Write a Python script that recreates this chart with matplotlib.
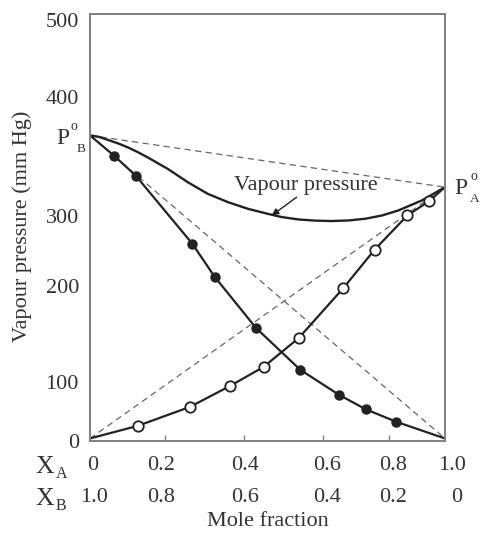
import matplotlib
matplotlib.use("Agg")
import matplotlib.pyplot as plt
import numpy as np
from matplotlib.transforms import blended_transform_factory

plt.rcParams['font.family'] = ['Liberation Serif', 'DejaVu Serif']

# ---- data (as drawn in the picture) ----
PB = 357
PA = 296
# partial pressure of B (filled circles)
xb_pts = [0.068, 0.129, 0.288, 0.351, 0.468, 0.592, 0.701, 0.777, 0.863]
yb_pts = [333, 309.5, 229.5, 190.5, 130, 81, 51.5, 34.3, 19.6]
# partial pressure of A (open circles)
xa_pts = [0.135, 0.281, 0.394, 0.489, 0.588, 0.713, 0.802, 0.894, 0.955]
ya_pts = [14.9, 37.1, 61.7, 84.3, 118.3, 176.8, 222.5, 262.7, 279.5]
# total vapour pressure curve
xv = [0, 0.025, 0.051, 0.079, 0.107, 0.135, 0.163, 0.220, 0.276, 0.332, 0.389,
      0.445, 0.501, 0.540, 0.587, 0.634, 0.681, 0.728, 0.775, 0.822, 0.868,
      0.934, 1.0]
yv = [357, 355.3, 351.6, 347.6, 342.8, 337.2, 331.0, 317.3, 301.7, 288.1, 278.3,
      270.5, 264.6, 260.8, 258.0, 256.6, 256.1, 256.8, 258.8, 262.6, 268.5,
      280.2, 296]

# tick labels as placed in the picture
ytick_pos = [-3, 67, 179, 262, 402, 493]
ytick_lab = ['0', '100', '200', '300', '400', '500']
xtick_marks = [0.210, 0.434, 0.656, 0.841]
xlab_pos_A = [0.008, 0.200, 0.437, 0.668, 0.854, 1.020]
xlab_A = ['0', '0.2', '0.4', '0.6', '0.8', '1.0']
xlab_pos_B = [0.011, 0.200, 0.437, 0.668, 0.854, 1.034]
xlab_B = ['1.0', '0.8', '0.6', '0.4', '0.2', '0']

W, H = 486, 535
fig = plt.figure(figsize=(W / 100, H / 100), dpi=100)
ax = fig.add_axes([90 / W, 1 - 441 / H, 355 / W, 427 / H])
ax.set_xlim(0, 1)
ax.set_ylim(0, 500)

tc = '#333333'
lc = '#222222'
dc = '#666666'
fs = 16


def fx(px):
    return px / W


def fy(py):
    return 1 - py / H


# dashed ideal lines
dash = dict(color=dc, lw=0.9, ls=(0, (5, 3.5)), zorder=1)
ax.plot([0, 1], [PB, PA], **dash)
ax.plot([0, 1], [PB, 0], **dash)
ax.plot([0, 1], [0, PA], **dash)

# curves
ax.plot([0] + xb_pts + [1], [PB] + yb_pts + [0], color=lc, lw=1.6, zorder=2)
ax.plot([0] + xa_pts + [1], [0] + ya_pts + [PA], color=lc, lw=1.6, zorder=2)
ax.plot(xv, yv, color=lc, lw=1.7, zorder=2, solid_joinstyle='round')

# markers
ax.plot(xb_pts, yb_pts, 'o', ms=6.5, mfc=lc, mec=lc, zorder=3)
ax.plot(xa_pts, ya_pts, 'o', ms=7.5, mfc='white', mec=lc, mew=1.3, zorder=3)

# annotation
ax.annotate('', xy=(0.512, 262.7), xytext=(0.582, 284.2),
            arrowprops=dict(arrowstyle='-|>', color=lc, lw=1.0,
                            mutation_scale=10, shrinkA=0, shrinkB=0))
ax.text(0.608, 292.5, 'Vapour pressure', ha='center', va='baseline',
        fontsize=fs, color=tc)

# spines
for s in ax.spines.values():
    s.set_color('#808080')
    s.set_linewidth(1.4)

ax.set_yticks(ytick_pos)
ax.set_yticklabels(ytick_lab)
ax.tick_params(axis='y', length=0, pad=8, labelsize=fs, labelcolor=tc)
ax.set_xticks(xtick_marks)
ax.set_xticklabels([])
ax.tick_params(axis='x', direction='in', length=4.5, width=1.0, color='#808080')

# x labels, two rows
tr = blended_transform_factory(ax.transData, fig.transFigure)
for p, l in zip(xlab_pos_A, xlab_A):
    ax.text(p, fy(465), l, transform=tr, ha='center', va='center',
            fontsize=fs, color=tc)
for p, l in zip(xlab_pos_B, xlab_B):
    ax.text(p, fy(497), l, transform=tr, ha='center', va='center',
            fontsize=fs, color=tc)

# X_A, X_B
fig.text(fx(35), fy(473), 'X', ha='left', va='baseline', fontsize=18.5, color=tc)
fig.text(fx(55.5), fy(478), 'A', ha='left', va='baseline', fontsize=11.5, color=tc)
fig.text(fx(35), fy(505), 'X', ha='left', va='baseline', fontsize=18.5, color=tc)
fig.text(fx(55.5), fy(510), 'B', ha='left', va='baseline', fontsize=11.5, color=tc)

# P° labels
fig.text(fx(56.5), fy(144.3), 'P', ha='left', va='baseline', fontsize=17, color=tc)
fig.text(fx(70.3), fy(130), 'o', ha='left', va='baseline', fontsize=10, color=tc)
fig.text(fx(77), fy(151.7), 'B', ha='left', va='baseline', fontsize=9.5, color=tc)
fig.text(fx(454.5), fy(194.3), 'P', ha='left', va='baseline', fontsize=17, color=tc)
fig.text(fx(470), fy(180), 'o', ha='left', va='baseline', fontsize=10, color=tc)
fig.text(fx(469.5), fy(202.3), 'A', ha='left', va='baseline', fontsize=9.5, color=tc)

# axis titles
fig.text(fx(22), fy(226), 'Vapour pressure (mm Hg)', rotation=90,
         ha='center', va='center', fontsize=fs, color=tc)
fig.text(fx(268), fy(522), 'Mole fraction', ha='center', va='center',
         fontsize=fs, color=tc)

fig.savefig('out.png', dpi=100)
